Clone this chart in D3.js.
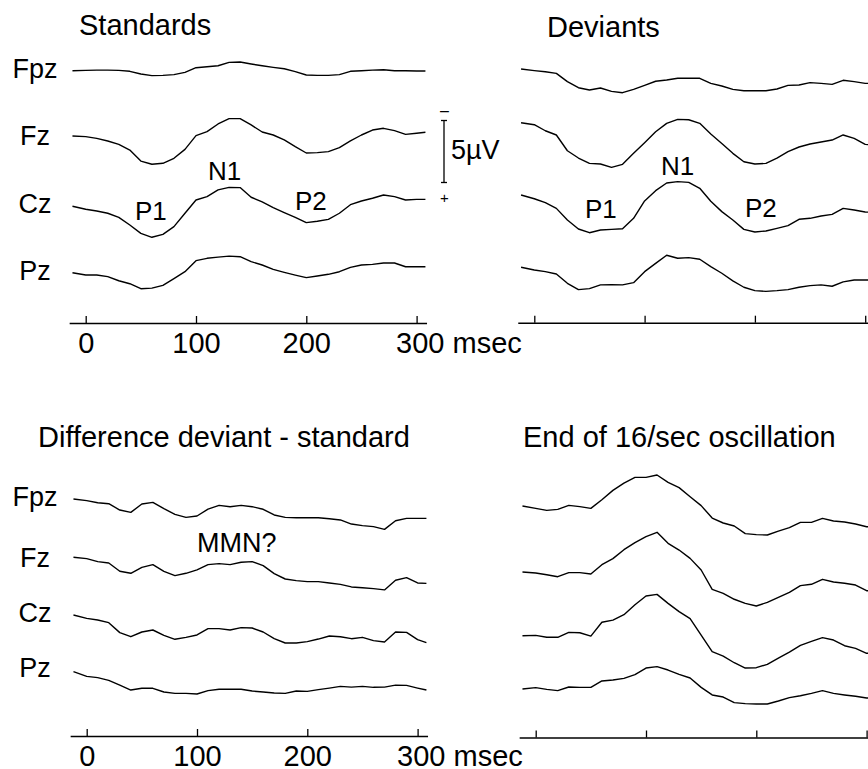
<!DOCTYPE html>
<html><head><meta charset="utf-8">
<script src="https://cdn.jsdelivr.net/npm/d3@7"></script>
<style>
body{margin:0;background:#fff}
svg{display:block;background:#fff}
text{font-family:"Liberation Sans",Arial,Helvetica,sans-serif;fill:#000}
</style>
</head><body>
<svg id="chart" width="868" height="769"></svg>
<script>
// ---------- data (µV, negative plotted upward) ----------
const times = [-12,0,10,20,30,40,50,60,70,80,90,100,110,120,130,140,150,160,170,180,190,200,210,220,230,240,250,260,270,280,290,300,308];
const channels = ["Fpz","Fz","Cz","Pz"];
const panelTitles = ["Standards","Deviants","Difference deviant - standard","End of 16/sec oscillation"];
const tickValues = [0,100,200,300];
const unitLabel = "msec";
const scaleBarValue = 5;
const scaleBarLabel = "5\u00b5V";

const stdFpz = [0,-0.03,-0.05,-0.05,-0.03,0.05,0.27,0.40,0.38,0.32,0.13,-0.24,-0.32,-0.40,-0.67,-0.70,-0.54,-0.40,-0.27,-0.16,0.08,0.35,0.38,0.38,0.32,0.05,0,-0.05,-0.08,0,0,0.03,0.03];
const stdFz  = [0,0.05,0.19,0.40,0.67,1.13,2.02,2.28,2.20,1.80,1.08,-0.03,-0.35,-0.97,-1.40,-1.40,-0.89,-0.32,-0.08,0.32,0.86,1.37,1.34,1.26,0.94,0.40,-0.08,-0.48,-0.62,-0.43,-0.13,-0.22,-0.30];
const stdCz  = [0,0.24,0.38,0.56,0.89,1.51,2.18,2.50,2.26,1.64,0.56,-0.51,-0.78,-1.32,-1.53,-1.51,-0.73,-0.35,0.11,0.51,0.89,1.32,1.21,1.05,0.56,-0.13,-0.43,-0.65,-0.91,-0.78,-0.51,-0.56,-0.56];
const stdPz  = [0,0.19,0.19,0.32,0.65,0.89,1.29,1.24,1.02,0.48,-0.08,-0.97,-1.16,-1.26,-1.34,-1.29,-0.89,-0.62,-0.27,-0.03,0.19,0.40,0.27,0.13,-0.08,-0.43,-0.62,-0.67,-0.78,-0.78,-0.48,-0.48,-0.48];

const devFpz = [0,0.13,0.22,0.35,1.02,1.51,1.69,1.53,1.80,1.91,1.64,1.32,0.99,0.89,0.75,0.75,0.75,1.16,1.37,1.64,1.75,1.75,1.75,1.61,1.32,1.29,1.10,1.16,1.24,0.91,1.02,1.16,1.16];
const devFz  = [0,0.16,0.65,0.99,2.26,2.85,3.28,3.33,3.60,3.36,2.47,1.61,0.73,0.05,-0.27,-0.24,0.05,0.91,1.67,2.47,3.15,3.33,3.28,2.85,2.34,1.96,1.72,1.56,1.40,0.99,1.26,1.75,1.80];
const devCz  = [0,0.30,0.62,1.08,2.02,2.74,3.04,2.82,2.77,2.72,1.88,0.48,-0.35,-0.97,-1.08,-1.02,-0.54,0.51,1.34,2.02,2.77,2.98,2.90,2.69,2.47,1.96,1.88,1.69,1.56,1.08,1.21,1.37,1.40];
const devPz  = [0,0.22,0.35,0.54,1.29,1.80,1.72,1.42,1.40,1.42,1.24,0.35,-0.32,-0.97,-0.73,-0.78,-0.65,-0.05,0.48,1.10,1.61,1.88,1.94,1.88,1.80,1.61,1.48,1.42,1.53,1.18,1.02,1.02,1.02];

const diffFpz = [0,0.13,0.30,0.38,0.89,1.08,0.40,0.27,0.78,1.24,1.48,1.37,0.81,0.51,0.62,0.51,0.62,0.83,1.29,1.48,1.51,1.51,1.51,1.59,1.69,2.02,2.15,2.23,2.45,1.75,1.56,1.56,1.56];
const diffFz  = [0,0.11,0.35,0.46,1.13,1.29,0.81,0.59,1.13,1.48,1.29,1.02,0.59,0.51,0.59,0.40,0.35,0.67,1.32,1.75,1.88,1.96,1.96,2.07,2.18,2.39,2.45,2.53,2.63,1.85,1.64,2.07,2.10];
const diffCz  = [0,0.27,0.40,0.62,1.42,1.75,1.37,1.21,1.64,1.96,1.80,1.61,1.10,1.10,1.21,1.02,1.05,1.37,1.91,2.26,2.26,2.15,1.94,1.69,1.75,1.91,1.80,2.07,2.18,1.37,1.40,1.99,2.23];
const diffPz  = [0,0.38,0.48,0.70,1.08,1.48,1.34,1.34,1.64,1.75,1.75,1.80,1.53,1.42,1.42,1.42,1.56,1.64,1.72,1.75,1.56,1.59,1.45,1.32,1.18,1.24,1.18,1.26,1.24,1.08,1.10,1.32,1.48];

const oscFpz = [0,0.19,0.35,0.27,-0.05,0.05,0.19,-0.51,-1.26,-1.85,-2.31,-2.31,-2.50,-1.91,-1.48,-0.75,-0.03,0.97,1.37,1.61,2.23,2.31,2.34,2.02,1.75,1.32,1.32,1.00,1.21,1.29,1.45,1.67,1.67];
const oscFz  = [0,0.08,0.22,0.38,0.05,0.05,0.16,-0.59,-1.08,-1.80,-2.37,-2.85,-3.20,-2.31,-1.77,-1.10,-0.16,1.40,1.72,2.20,2.53,2.74,2.45,2.04,1.64,1.10,0.99,0.59,0.81,0.91,1.05,1.51,1.51];
const oscCz  = [0,-0.03,0.13,0.13,-0.27,-0.24,0.03,-1.08,-1.26,-1.69,-2.50,-3.20,-3.33,-2.61,-1.94,-1.37,-0.05,1.29,1.64,2.18,2.61,2.58,2.31,1.80,1.32,0.78,0.46,0.16,0.35,0.81,1.02,1.42,1.42];
const oscPz  = [0,-0.11,0.03,0.13,-0.16,-0.13,-0.13,-0.65,-0.73,-0.86,-1.16,-1.69,-1.80,-1.53,-1.18,-0.89,-0.13,0.48,0.65,1.10,1.18,1.21,1.21,0.97,0.70,0.54,0.35,0.13,0.35,0.48,0.59,0.73,0.73];

// ---------- layout ----------
const PX_PER_MS = 1.103;
const PX_PER_UV = 12.4;
const panels = [
  {title:panelTitles[0], series:[stdFpz,stdFz,stdCz,stdPz], x0:85.7, axisY:323, base:[70.7,136,206.3,272.7], tx:79, ty:35, chLabels:true, tickText:true, axisEnd:309, labelY:[78.3,145,213,280]},
  {title:panelTitles[1], series:[devFpz,devFz,devCz,devPz], x0:534.3, axisY:322.7, base:[69,122.7,195,267.3], tx:547, ty:37, chLabels:false, tickText:false, axisEnd:320},
  {title:panelTitles[2], series:[diffFpz,diffFz,diffCz,diffPz], x0:86.7, axisY:736, base:[499,557.3,615,671.7], tx:38, ty:447, chLabels:true, tickText:true, axisEnd:309, labelY:[506,566.7,621.7,676.7]},
  {title:panelTitles[3], series:[oscFpz,oscFz,oscCz,oscPz], x0:535.7, axisY:737.5, base:[506,572,635.7,689], tx:523, ty:447, chLabels:false, tickText:false, axisEnd:320}
];
const annotations = [
  {text:"N1", x:208, y:180, size:26},
  {text:"P1", x:135, y:220, size:26},
  {text:"P2", x:295, y:210, size:26},
  {text:"N1", x:661, y:175, size:26},
  {text:"P1", x:585, y:218, size:26},
  {text:"P2", x:745, y:217, size:26},
  {text:"MMN?", x:197, y:551.5, size:27}
];

const svg = d3.select("#chart");
svg.append("rect").attr("width",868).attr("height",769).attr("fill","#fff");

panels.forEach(p => {
  const g = svg.append("g");
  const x = d3.scaleLinear()
    .domain([-15, p.axisEnd])
    .range([p.x0 - 15*PX_PER_MS, p.x0 + p.axisEnd*PX_PER_MS]);

  // title
  g.append("text").attr("x",p.tx).attr("y",p.ty)
    .attr("font-size",29).text(p.title);

  // traces
  p.series.forEach((vals,i) => {
    const y = d3.scaleLinear().domain([0,1]).range([p.base[i], p.base[i]+PX_PER_UV]);
    const line = d3.line().x((d,j)=>x(times[j])).y(d=>y(d));
    g.append("path").datum(vals)
      .attr("d",line).attr("fill","none")
      .attr("stroke","#000").attr("stroke-width",1.4)
      .attr("stroke-linejoin","round");
    if (p.chLabels) {
      g.append("text").attr("x",35).attr("y",p.labelY[i])
        .attr("text-anchor","middle").attr("font-size",27).text(channels[i]);
    }
  });

  // time axis
  const axis = d3.axisBottom(x)
    .tickValues(tickValues)
    .tickSize(-7).tickSizeOuter(0).tickPadding(9)
    .tickFormat(d => p.tickText ? (d===300 ? "300 " + unitLabel : String(d)) : "");
  const ag = g.append("g").attr("transform",`translate(0,${p.axisY})`).call(axis);
  ag.select(".domain").attr("stroke","#000").attr("stroke-width",1.6);
  ag.selectAll(".tick line").attr("stroke","#000").attr("stroke-width",1.3);
  ag.selectAll(".tick text").attr("font-size",29).attr("fill","#000")
    .style("font-family",'"Liberation Sans",Arial,Helvetica,sans-serif');
  ag.selectAll(".tick text").filter(d => d===300)
    .attr("text-anchor","start").attr("x",-21);
});

// annotations
annotations.forEach(a => {
  svg.append("text").attr("x",a.x).attr("y",a.y).attr("font-size",a.size).text(a.text);
});

// 5 µV calibration bar
const ys = d3.scaleLinear().domain([0, scaleBarValue]).range([120.5, 120.5 + scaleBarValue*PX_PER_UV]);
const sb = svg.append("g").attr("stroke","#000").attr("stroke-width",1.3);
sb.append("line").attr("x1",444).attr("x2",444).attr("y1",ys(0)).attr("y2",ys(scaleBarValue));
sb.append("line").attr("x1",441).attr("x2",447).attr("y1",ys(0)).attr("y2",ys(0));
sb.append("line").attr("x1",441).attr("x2",447).attr("y1",ys(scaleBarValue)).attr("y2",ys(scaleBarValue));
svg.append("text").attr("x",444.5).attr("y",116).attr("text-anchor","middle").attr("font-size",16).text("\u2013");
svg.append("text").attr("x",444.3).attr("y",203).attr("text-anchor","middle").attr("font-size",15).text("+");
svg.append("text").attr("x",451).attr("y",158.5).attr("font-size",27).text(scaleBarLabel);
</script>
</body></html>
